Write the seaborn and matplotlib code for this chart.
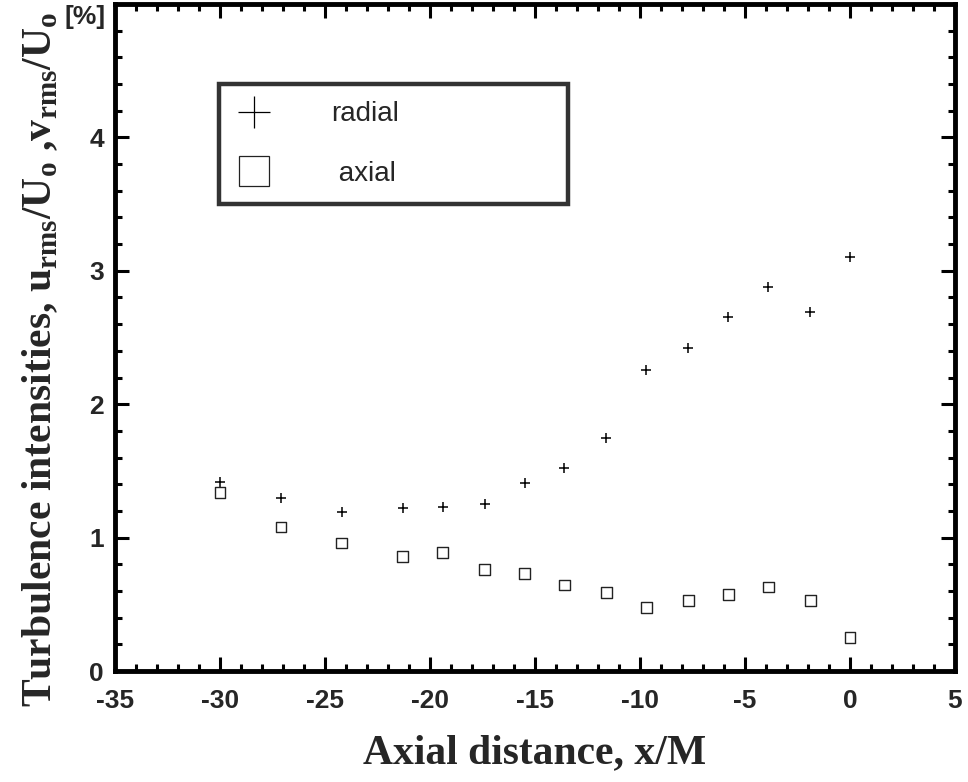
import matplotlib
matplotlib.use("Agg")
import matplotlib.pyplot as plt
import seaborn as sns
import pandas as pd
from matplotlib.lines import Line2D
from matplotlib.ticker import MultipleLocator

x_pos = [-30.0, -27.1, -24.2, -21.3, -19.4, -17.4, -15.5, -13.6, -11.6, -9.7, -7.7, -5.8, -3.9, -1.9, 0.0]
radial = [1.42, 1.30, 1.19, 1.22, 1.23, 1.25, 1.41, 1.52, 1.75, 2.26, 2.42, 2.65, 2.88, 2.69, 3.10]
axial = [1.34, 1.08, 0.96, 0.86, 0.89, 0.76, 0.73, 0.645, 0.59, 0.475, 0.53, 0.575, 0.63, 0.53, 0.25]
x_ticks = [-35, -30, -25, -20, -15, -10, -5, 0, 5]
y_ticks = [0, 1, 2, 3, 4]

df = pd.DataFrame({"x": x_pos, "radial": radial, "axial": axial})

sns.set_style("ticks")
plt.rcParams["axes.unicode_minus"] = False
fig = plt.figure(figsize=(9.68, 7.82), dpi=100)
ax = fig.add_axes([0.1188, 0.1419, 0.8678, 0.853])

sns.scatterplot(data=df, x="x", y="radial", marker="+", s=60, color="black",
                linewidth=1.1, ax=ax, zorder=3)
sns.scatterplot(data=df, x="x", y="axial", marker="s", s=60, facecolor="none",
                edgecolor="#222222", linewidth=1.0, ax=ax, zorder=3)

ax.set_xlim(-35, 5)
ax.set_ylim(0, 5)
ax.set_xticks(x_ticks)
ax.set_yticks(y_ticks)
ax.xaxis.set_minor_locator(MultipleLocator(1))
ax.yaxis.set_minor_locator(MultipleLocator(0.2))

for s in ax.spines.values():
    s.set_linewidth(3.5)
    s.set_color("black")
ax.tick_params(which="both", direction="in", top=True, right=True, width=2.2, color="black")
ax.tick_params(which="major", length=10, pad=8)
ax.tick_params(axis="x", which="major", pad=13)
ax.tick_params(which="minor", length=5)
for lab in ax.get_xticklabels() + ax.get_yticklabels():
    lab.set_fontfamily("Liberation Sans")
    lab.set_fontweight("bold")
    lab.set_fontsize(19)

ax.set_xlabel("Axial distance, x/M", fontfamily="Liberation Serif", fontweight="bold",
              fontsize=30, labelpad=15)
ax.set_ylabel("")
fig.text(0.042, 0.54,
         r"Turbulence intensities, u$_{\mathregular{rms}}$/U$_{\mathregular{o}}$ ,v$_{\mathregular{rms}}$/U$_{\mathregular{o}}$",
         rotation=90, ha="center", va="center", fontfamily="Liberation Serif",
         fontweight="bold", fontsize=30)
fig.text(0.088, 0.978, "[%]", ha="center", va="center", fontfamily="Liberation Sans",
         fontweight="bold", fontsize=19)

handles = [
    Line2D([], [], marker="+", linestyle="none", color="black", markersize=23, markeredgewidth=0.9),
    Line2D([], [], marker="s", linestyle="none", markerfacecolor="none", markeredgecolor="#222222",
           markersize=21, markeredgewidth=0.9),
]
leg = ax.legend(handles, ["radial", " axial"], loc="upper left",
                bbox_to_anchor=(0.124, 0.695, 0.415, 0.185), mode="expand",
                frameon=True, fancybox=False, edgecolor="black", handletextpad=2.1,
                borderpad=0.62, labelspacing=1.2, prop={"family": "Liberation Sans", "size": 20},
                handlelength=1.3, borderaxespad=0)
leg.get_frame().set_linewidth(3.2)
leg.get_frame().set_facecolor("white")

fig.savefig("out.png", dpi=100)
